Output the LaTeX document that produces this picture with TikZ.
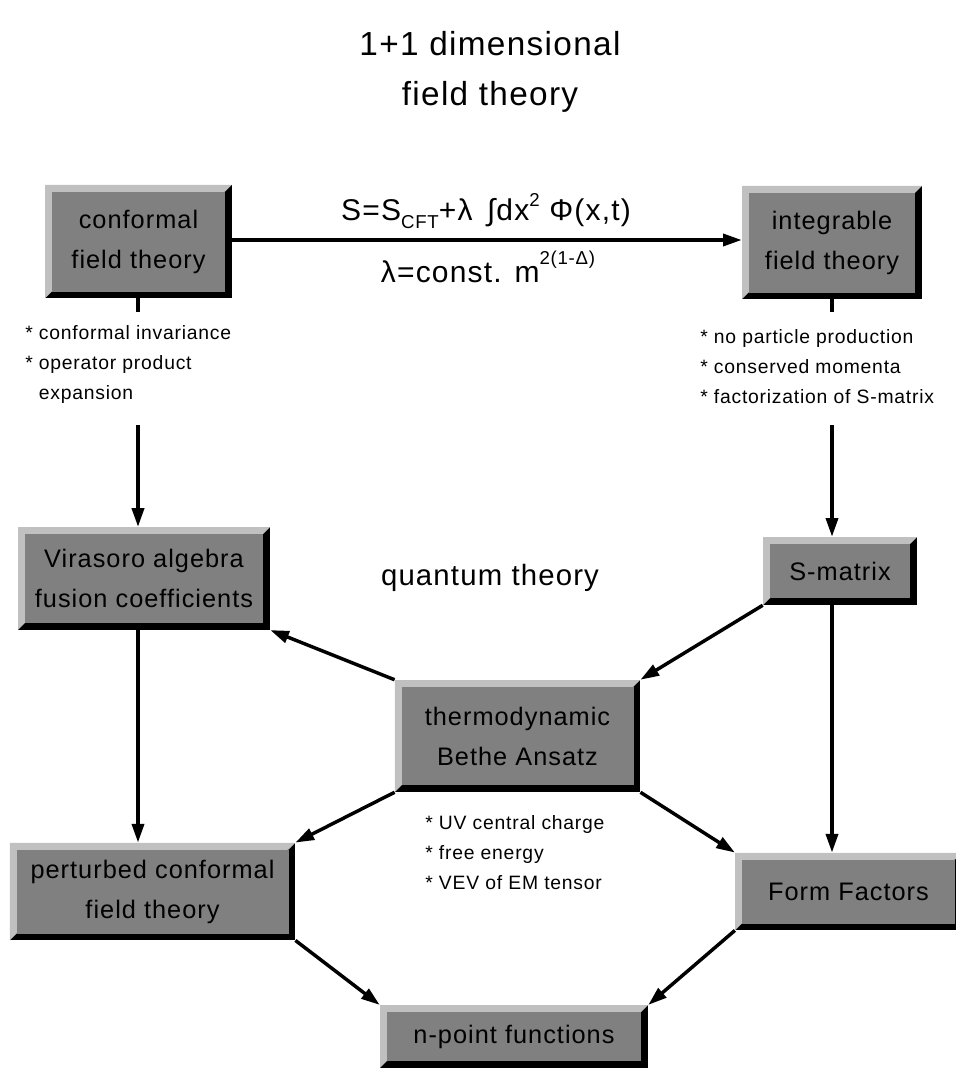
\documentclass[tikz,border=0pt]{standalone}
\usepackage{fontspec}
\setmainfont{Liberation Sans}[LetterSpace=4]
\usetikzlibrary{arrows.meta}
\definecolor{boxgray}{HTML}{808080}
\definecolor{bevlight}{HTML}{C0C0C0}
\tikzset{
  slab/.style={fill=black, inner sep=0pt, align=center,
    font=\fontsize{19}{30}\selectfont,
    path picture={
      \fill[bevlight] (path picture bounding box.south west) -- (path picture bounding box.north west)
        -- (path picture bounding box.north east) -- ([shift={(-5pt,-5pt)}]path picture bounding box.north east)
        -- ([shift={(5pt,5pt)}]path picture bounding box.south west) -- cycle;
      \fill[boxgray] ([shift={(5pt,5pt)}]path picture bounding box.south west)
        rectangle ([shift={(-5pt,-5pt)}]path picture bounding box.north east);
    }},
  arr/.style={line width=2.6pt, -{Triangle[length=14pt,width=9pt]}},
  stub/.style={line width=2.6pt},
  note/.style={anchor=north west, align=left, inner sep=0pt, font=\fontsize{14.5}{22.5}\selectfont},
  heading/.style={align=center, inner sep=0pt, font=\fontsize{25}{37.5}\selectfont},
  eqn/.style={font=\fontsize{22.5}{22.5}\selectfont},
}
\newcommand{\sm}[1]{{\fontsize{14}{14}\selectfont #1}}

\begin{document}
\begin{tikzpicture}[x=0.75pt, y=-0.75pt]
\useasboundingbox (0,0) rectangle (956,1078);

\node[heading] (title) at (490,72) {1+1 dimensional\\field theory};
\node[heading, font=\fontsize{22}{22}\selectfont] (quant) at (490,578) {quantum theory};

% top row
\node[slab, minimum width=140pt, minimum height=85pt] (conf) at (138.5,241.5) {conformal\\field theory};
\node[slab, minimum width=135pt, minimum height=85pt] (integ) at (832,242.5) {integrable\\field theory};
\draw[arr] (conf.east |- 0,240) -- (integ.west |- 0,240);
\node[eqn] (lagr) at (486,211)
  {S=S\raisebox{-0.45ex}{\sm{CFT}}+λ \,∫dx\raisebox{0.9ex}{\sm{2}} Φ(x,t)};
\node[eqn] (coup) at (488,267)
  {λ=const. m\raisebox{1.1ex}{\sm{2(1-Δ)}}};

% properties
\coordinate (cl) at (138,312);
\coordinate (cr) at (832,312);
\draw[stub] (conf.south -| cl) -- (cl);
\draw[stub] (integ.south -| cr) -- (cr);
\node[note] (cprop) at (25,325) {* conformal invariance\\* operator product\\\hphantom{* }expansion};
\node[note] (iprop) at (700,329) {* no particle production\\* conserved momenta\\* factorization of S-matrix};
\coordinate (cl2) at (138,425);
\coordinate (cr2) at (832,425);

% quantum theory
\node[slab, minimum width=189pt, minimum height=77pt] (vir) at (144,578.5) {Virasoro algebra\\fusion coefficients};
\node[slab, minimum width=115.5pt, minimum height=51pt] (smat) at (840,571) {S-matrix};
\node[slab, minimum width=184pt, minimum height=84pt] (tba) at (517.5,736) {thermodynamic\\Bethe Ansatz};
\node[slab, minimum width=214pt, minimum height=73pt] (pert) at (152.5,891.5) {perturbed conformal\\field theory};
\node[slab, minimum width=170pt, minimum height=58pt] (ff) at (848.5,891.5) {Form Factors};
\node[slab, minimum width=201pt, minimum height=47pt] (npt) at (514,1036.5) {n-point functions};
\node[note] (tprop) at (425,815) {* UV central charge\\* free energy\\* VEV of EM tensor};

\draw[arr] (cl2) -- (cl2 |- vir.north);
\draw[arr] (cr2) -- (cr2 |- smat.north);
\draw[arr] (tba.north west) -- (vir.south east);
\draw[arr] (smat.south west) -- (tba.north east);
\draw[arr] (cl2 |- vir.south) -- (cl2 |- pert.north);
\draw[arr] (cr2 |- smat.south) -- (cr2 |- ff.north);
\draw[arr] (tba.south west) -- (pert.north east);
\draw[arr] (tba.south east) -- (ff.north west);
\draw[arr] (pert.south east) -- (npt.north west);
\draw[arr] (ff.south west) -- (npt.north east);
\end{tikzpicture}
\end{document}
